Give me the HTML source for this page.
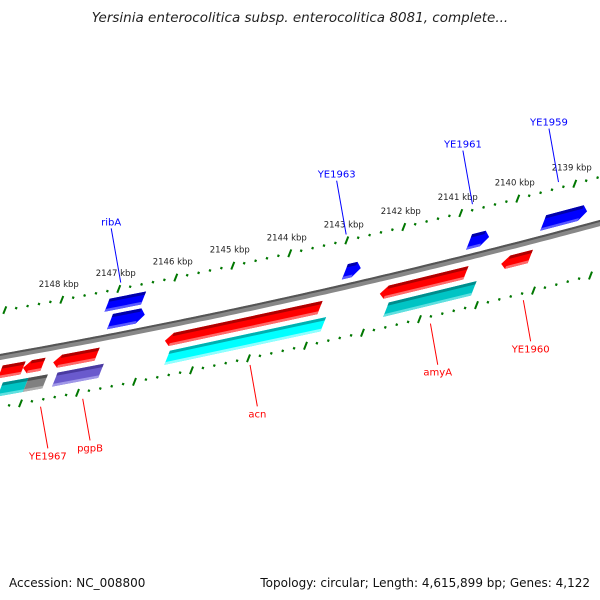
<!DOCTYPE html>
<html><head><meta charset="utf-8"><style>
html,body{margin:0;padding:0;background:#fff;}
svg{display:block;font-family:"DejaVu Sans","Liberation Sans",sans-serif;}
</style></head><body>
<svg id="map" width="600" height="600" viewBox="0 0 600 600" xmlns="http://www.w3.org/2000/svg">
<rect width="600" height="600" fill="#fff"/>
<text x="300" y="22" text-anchor="middle" font-size="13.5" font-style="italic" fill="#222">Yersinia enterocolitica subsp. enterocolitica 8081, complete...</text>
<text x="9" y="587" font-size="12" fill="#111">Accession: NC_008800</text>
<text x="590" y="587" text-anchor="end" font-size="12" fill="#111">Topology: circular; Length: 4,615,899 bp; Genes: 4,122</text>
<g id="layer"></g>
</svg>
<script>
// feature data (kbp)
const featNames = ["ribA-gene","ribA","YE1963","YE1961","YE1959","left-red","YE1967","pgpB","acn","amyA","YE1960","left-teal","YE1967-cds","pgpB-cds","acn-cds","amyA-cds"];
const featStart = [2147.10,2146.92,2142.80,2140.62,2139.32,2148.62,2148.22,2147.69,2145.73,2141.96,2139.83,2148.49,2148.04,2147.53,2145.56,2141.72];
const featEnd   = [2146.46,2146.31,2142.52,2140.27,2138.55,2148.22,2147.87,2146.92,2143.01,2140.45,2139.32,2148.04,2147.70,2146.72,2142.82,2140.18];
const featTrack = [0,1,1,1,1,2,2,2,2,2,2,3,3,3,3,3];
const featArrow = ["none","right","right","right","right","none","left","left","left","left","left","none","none","none","none","none"];
const featColor = ["blue","blue","blue","blue","blue","red","red","red","red","red","red","teal","gray","purple","cyan","teal"];
const tickLabels = [2148,2147,2146,2145,2144,2143,2142,2141,2140,2139];
const geneLabels = ["ribA","YE1963","YE1961","YE1959","YE1960","amyA","acn","pgpB","YE1967"];
const geneLabelFeat = [1,2,3,4,10,9,8,7,6];

const trackTop=[-38,-22,9,26], trackBot=[-26,-8,21,39];
const pal={blue:["#0000a8","#0000ff","#5a5aff"],red:["#b00000","#ff0000","#ff6a6a"],teal:["#008c8c","#00c4c4","#60e0e0"],
 cyan:["#00b0b0","#00ffff","#90ffff"],gray:["#505050","#808080","#b0b0b0"],purple:["#4a3aa0","#6a5acd","#a098e8"]};
function curve(x){return 357-0.1767*x-7.78e-5*x*x;}
function pt(k,r){const x=99-0.43*r+(2147-k)*57;return [x,curve(x)+r];}
const NS="http://www.w3.org/2000/svg";
const layer=document.getElementById('layer');
function mk(tag,attrs,parent){const e=document.createElementNS(NS,tag);for(const a in attrs)e.setAttribute(a,attrs[a]);(parent||layer).appendChild(e);return e;}
function poly(p){return p.map(q=>q[0].toFixed(1)+","+q[1].toFixed(1)).join(" ");}

// backbone
let d="";for(let x=-5;x<=605;x+=5){const y=curve(x);d+=(x===-5?"M":"L")+x+","+y.toFixed(1);}
const bb1=mk('path',{d:d,stroke:"#888",'stroke-width':6,fill:"none"});


const bb2=mk('path',{d:d,stroke:"#555",'stroke-width':2,fill:"none",transform:"translate(0,-2)"});



// tick rings
[-46,50].forEach((r,ri)=>{
 for(let i=0;i<=60;i++){
  const k=2149.2-i*0.2; const major=Math.abs(k-Math.round(k))<0.01;
  const a=pt(k,r-(major?3.5:1)),b=pt(k,r+(major?3.5:1));
  const t=mk('line',{x1:a[0],y1:a[1],x2:b[0],y2:b[1],stroke:"#007700",'stroke-width':major?2:2.2});
  
  
 }
});
tickLabels.forEach(k=>{
 const p=pt(k,-46);
 const t=mk('text',{x:p[0]-3,y:p[1]-13,'text-anchor':'middle','font-size':8.5,fill:"#222"});
 t.textContent=k+" kbp";
 
 
});

// features
const AK=0.11;
featNames.forEach((n,i)=>{
 const tr=featTrack[i],rt=trackTop[tr],rb=trackBot[tr],rm=(rt+rb)/2,k1=featStart[i],k2=featEnd[i],c=pal[featColor[i]];
 const g=mk('g',{});
 
 
 let pts;
 if(featArrow[i]==="left") pts=[pt(k1,rm),pt(k1-AK,rt),pt(k2,rt),pt(k2,rb),pt(k1-AK,rb)];
 else if(featArrow[i]==="right") pts=[pt(k1,rt),pt(k2+AK,rt),pt(k2,rm),pt(k2+AK,rb),pt(k1,rb)];
 else pts=[pt(k1,rt),pt(k2,rt),pt(k2,rb),pt(k1,rb)];
 mk('polygon',{points:poly(pts),fill:c[1]},g);
 const ka=featArrow[i]==="left"?k1-AK:k1, kb=featArrow[i]==="right"?k2+AK:k2;
 mk('polygon',{points:poly([pt(ka,rt),pt(kb,rt),pt(kb,rt+3),pt(ka,rt+3)]),fill:c[0]},g);
 mk('polygon',{points:poly([pt(ka,rb-2.5),pt(kb,rb-2.5),pt(kb,rb),pt(ka,rb)]),fill:c[2]},g);
});

// gene labels (leaders lean radially: dx = 0.17 per px of radial offset)
geneLabels.forEach((lab,j)=>{
 const i=geneLabelFeat[j],tr=featTrack[i],up=tr<2,km=(featStart[i]+featEnd[i])/2;
 const rm=(trackTop[tr]+trackBot[tr])/2;
 const c=pt(km,rm);
 const r0=up?-52:57, r1=up?-108:100;
 const x0=c[0]+0.18*(r0-rm), x1=x0+0.17*(r1-r0);
 const y0=curve(x0)+r0, y1=curve(x1)+r1;
 const col=up?"#0000ff":"#ff0000";
 const l=mk('line',{x1:x0,y1:y0,x2:x1,y2:y1,stroke:col,'stroke-width':1});
 
 
 const t=mk('text',{x:x1,y:up?y1-3:y1+11,'text-anchor':'middle','font-size':10,fill:col});
 t.textContent=lab;
 
 
});
</script>
</body></html>
